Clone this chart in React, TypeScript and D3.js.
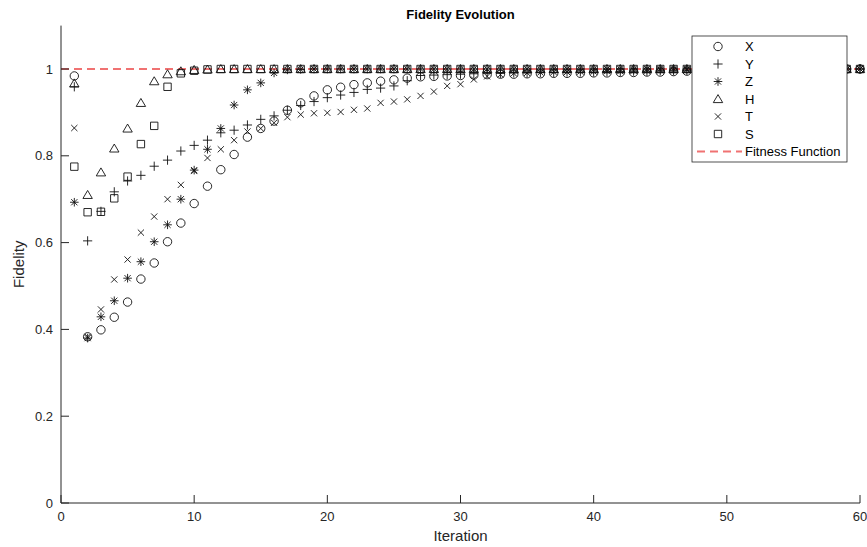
import React from "react";
import * as d3 from "d3";

const iterations: number[] = Array.from({ length: 60 }, (_, i) => i + 1);

const seriesX: number[] = [
  0.984, 0.383, 0.399, 0.428, 0.463, 0.516, 0.553, 0.602, 0.645, 0.690,
  0.730, 0.768, 0.803, 0.843, 0.863, 0.880, 0.905, 0.922, 0.938, 0.952,
  0.958, 0.964, 0.968, 0.972, 0.975, 0.979, 0.982, 0.983, 0.984, 0.985,
  0.986, 0.987, 0.988, 0.988, 0.989, 0.989, 0.990, 0.990, 0.990, 0.991,
  0.991, 0.992, 0.992, 0.993, 0.993, 0.994, 0.995, 0.997, 0.998, 0.998,
  0.999, 0.999, 0.999, 0.999, 1.0, 1.0, 1.0, 1.0, 1.0, 1.0,
];
const seriesY: number[] = [
  0.959, 0.604, 0.672, 0.717, 0.742, 0.755, 0.776, 0.790, 0.811, 0.824,
  0.836, 0.853, 0.859, 0.871, 0.884, 0.892, 0.905, 0.916, 0.925, 0.934,
  0.940, 0.946, 0.953, 0.956, 0.961, 0.973, 0.985, 0.986, 0.987, 0.988,
  0.989, 0.990, 0.990, 0.991, 0.991, 0.992, 0.992, 0.993, 0.993, 0.993,
  0.994, 0.994, 0.995, 0.995, 0.996, 0.996, 0.997, 0.998, 0.999, 0.999,
  1.0, 1.0, 1.0, 1.0, 1.0, 1.0, 1.0, 1.0, 1.0, 1.0,
];
const seriesZ: number[] = [
  0.693, 0.380, 0.429, 0.466, 0.518, 0.556, 0.602, 0.641, 0.700, 0.767,
  0.815, 0.863, 0.917, 0.952, 0.968, 0.991, 0.998, 0.999, 1.0, 1.0,
  1.0, 1.0, 1.0, 1.0, 1.0, 1.0, 1.0, 1.0, 1.0, 1.0,
  1.0, 1.0, 1.0, 1.0, 1.0, 1.0, 1.0, 1.0, 1.0, 1.0,
  1.0, 1.0, 1.0, 1.0, 1.0, 1.0, 1.0, 1.0, 1.0, 1.0,
  1.0, 1.0, 1.0, 1.0, 1.0, 1.0, 1.0, 1.0, 1.0, 1.0,
];
const seriesH: number[] = [
  0.967, 0.710, 0.762, 0.817, 0.863, 0.922, 0.972, 0.988, 0.995, 0.998,
  0.999, 1.0, 1.0, 1.0, 1.0, 1.0, 1.0, 1.0, 1.0, 1.0,
  1.0, 1.0, 1.0, 1.0, 1.0, 1.0, 1.0, 1.0, 1.0, 1.0,
  1.0, 1.0, 1.0, 1.0, 1.0, 1.0, 1.0, 1.0, 1.0, 1.0,
  1.0, 1.0, 1.0, 1.0, 1.0, 1.0, 1.0, 1.0, 1.0, 1.0,
  1.0, 1.0, 1.0, 1.0, 1.0, 1.0, 1.0, 1.0, 1.0, 1.0,
];
const seriesT: number[] = [
  0.864, 0.383, 0.446, 0.515, 0.561, 0.623, 0.660, 0.700, 0.733, 0.765,
  0.795, 0.815, 0.836, 0.856, 0.863, 0.876, 0.889, 0.895, 0.898, 0.899,
  0.901, 0.906, 0.909, 0.922, 0.925, 0.930, 0.938, 0.948, 0.961, 0.965,
  0.976, 0.983, 0.987, 0.990, 0.991, 0.992, 0.993, 0.993, 0.994, 0.994,
  0.995, 0.995, 0.996, 0.996, 0.997, 0.997, 0.998, 0.999, 0.999, 1.0,
  1.0, 1.0, 1.0, 1.0, 1.0, 1.0, 1.0, 1.0, 1.0, 1.0,
];
const seriesS: number[] = [
  0.775, 0.670, 0.671, 0.702, 0.752, 0.827, 0.869, 0.959, 0.990, 0.996,
  0.999, 1.0, 1.0, 1.0, 1.0, 1.0, 1.0, 1.0, 1.0, 1.0,
  1.0, 1.0, 1.0, 1.0, 1.0, 1.0, 1.0, 1.0, 1.0, 1.0,
  1.0, 1.0, 1.0, 1.0, 1.0, 1.0, 1.0, 1.0, 1.0, 1.0,
  1.0, 1.0, 1.0, 1.0, 1.0, 1.0, 1.0, 1.0, 1.0, 1.0,
  1.0, 1.0, 1.0, 1.0, 1.0, 1.0, 1.0, 1.0, 1.0, 1.0,
];

const seriesNames: string[] = ["X", "Y", "Z", "H", "T", "S"];
const seriesMarkers: string[] = ["circle", "plus", "star", "triangle", "x", "square"];
const seriesValues: number[][] = [seriesX, seriesY, seriesZ, seriesH, seriesT, seriesS];
const fitnessLabel = "Fitness Function";
const fitnessValue = 1;

const xTicks: number[] = [0, 10, 20, 30, 40, 50, 60];
const yTicks: number[] = [0, 0.2, 0.4, 0.6, 0.8, 1];

function markerPath(type: string): string {
  switch (type) {
    case "circle":
      return "M4.2,0A4.2,4.2 0 1,1 -4.2,0A4.2,4.2 0 1,1 4.2,0Z";
    case "plus":
      return "M-4.6,0H4.6M0,-4.6V4.6";
    case "star":
      return "M-4.3,0H4.3M0,-4.3V4.3M-3.1,-3.1L3.1,3.1M-3.1,3.1L3.1,-3.1";
    case "x":
      return "M-3.1,-3.1L3.1,3.1M-3.1,3.1L3.1,-3.1";
    case "triangle":
      return "M0,-4.4L4.7,3.6L-4.7,3.6Z";
    case "square":
      return "M-3.7,-3.7H3.7V3.7H-3.7Z";
    default:
      return "";
  }
}

const W = 867;
const H = 547;
const axisColor = "#262626";
const font = "'Liberation Sans', Arial, Helvetica, sans-serif";

export default function App() {
  const x = d3.scaleLinear().domain([0, 60]).range([61, 860]);
  const y = d3.scaleLinear().domain([0, 1.1]).range([503, 25.6]);
  const [x0, x1] = x.range();
  const [y0, y1] = y.range();

  const legX = 692;
  const legY = 36;
  const legW = 155;
  const legH = 126;
  const rowStep = 17.5;
  const firstRow = legY + 10.5;

  return (
    <svg
      width={W}
      height={H}
      style={{ position: "absolute", left: 0, top: 0, background: "#fff" }}
      fontFamily={font}
    >
      <rect x={0} y={0} width={W} height={H} fill="#fff" />
      <line
        x1={x(0)}
        x2={x(60)}
        y1={y(fitnessValue)}
        y2={y(fitnessValue)}
        stroke="#f07272"
        strokeWidth={2}
        strokeDasharray="8,5"
      />
      {seriesValues.map((vals, si) => (
        <g key={seriesNames[si]}>
          {vals.map((v, i) => (
            <path
              key={i}
              d={markerPath(seriesMarkers[si])}
              transform={`translate(${x(iterations[i])},${y(v)})`}
              fill="none"
              stroke="#111"
              strokeWidth={0.9}
            />
          ))}
        </g>
      ))}
      <line x1={x0} x2={x0} y1={y1} y2={y0} stroke={axisColor} strokeWidth={1} />
      <line x1={x0} x2={x1} y1={y0} y2={y0} stroke={axisColor} strokeWidth={1} />
      {xTicks.map((t) => (
        <g key={"xt" + t}>
          <line x1={x(t)} x2={x(t)} y1={y0} y2={y0 - 8} stroke={axisColor} strokeWidth={1} />
          <text x={x(t)} y={y0 + 18} textAnchor="middle" fontSize={13} fill={axisColor}>
            {t}
          </text>
        </g>
      ))}
      {yTicks.map((t) => (
        <g key={"yt" + t}>
          <line x1={x0} x2={x0 + 8} y1={y(t)} y2={y(t)} stroke={axisColor} strokeWidth={1} />
          <text x={x0 - 8} y={y(t) + 4.5} textAnchor="end" fontSize={13} fill={axisColor}>
            {t}
          </text>
        </g>
      ))}
      <text x={(x0 + x1) / 2} y={541} textAnchor="middle" fontSize={15} fill={axisColor}>
        Iteration
      </text>
      <text
        transform={`translate(24,${(y0 + y1) / 2}) rotate(-90)`}
        textAnchor="middle"
        fontSize={15}
        fill={axisColor}
      >
        Fidelity
      </text>
      <text
        x={(x0 + x1) / 2}
        y={19}
        textAnchor="middle"
        fontSize={13}
        fontWeight="bold"
        fill="#000"
      >
        Fidelity Evolution
      </text>
      <rect x={legX} y={legY} width={legW} height={legH} fill="#fff" stroke={axisColor} strokeWidth={0.8} />
      {seriesNames.map((n, i) => (
        <g key={"leg" + n}>
          <path
            d={markerPath(seriesMarkers[i])}
            transform={`translate(${legX + 26},${firstRow + i * rowStep})`}
            fill="none"
            stroke="#111"
            strokeWidth={0.9}
          />
          <text x={legX + 53} y={firstRow + i * rowStep + 4.5} fontSize={13} fill="#000">
            {n}
          </text>
        </g>
      ))}
      <line
        x1={legX + 5}
        x2={legX + 50}
        y1={firstRow + 6 * rowStep}
        y2={firstRow + 6 * rowStep}
        stroke="#f07272"
        strokeWidth={2}
        strokeDasharray="8,5"
      />
      <text x={legX + 53} y={firstRow + 6 * rowStep + 4.5} fontSize={13} fill="#000">
        {fitnessLabel}
      </text>
    </svg>
  );
}
